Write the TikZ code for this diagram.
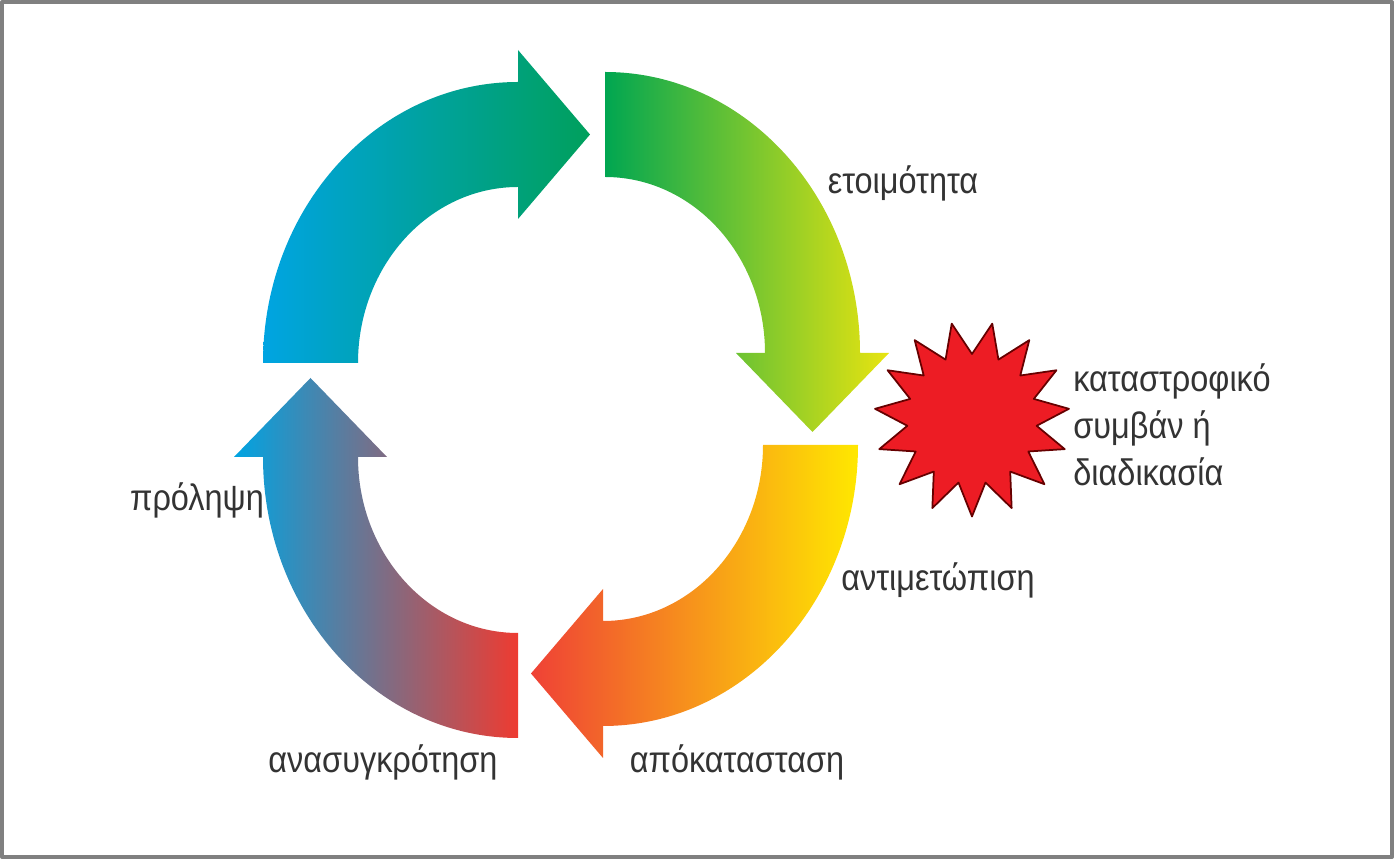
\documentclass[tikz,border=0pt]{standalone}
\usepackage{fontspec}
\setmainfont{Liberation Sans}[FakeStretch=0.88]
\usetikzlibrary{shapes.geometric}
\definecolor{cBlue}{RGB}{0,164,226}
\definecolor{cTeal}{RGB}{0,160,92}
\definecolor{cGreen}{RGB}{0,166,81}
\definecolor{cYellow}{RGB}{232,228,16}
\definecolor{cGold}{RGB}{255,232,0}
\definecolor{cRed}{RGB}{239,65,54}
\definecolor{cRose}{RGB}{238,59,49}
\definecolor{cSlate}{RGB}{126,130,146}
\definecolor{cBurst}{RGB}{237,28,36}
\begin{document}
\begin{tikzpicture}[x=0.02cm,y=0.02cm,line join=round,
	stage/.style={text=black!80,font=\fontsize{21}{26.6}\selectfont,inner sep=0pt}]
	\def\Rox{255} \def\Roy{281} \def\Rix{160} \def\Riy{176}
	\def\hx{29} \def\hy{32} \def\lx{72} \def\ly{79}
	\def\wx{76.5} \def\wy{84.5}
	\useasboundingbox (0,0) rectangle (1394,859);
	\draw[gray,line width=0.08cm] (2,2) rectangle (1392,857);
	\path
	(518,496) coordinate (A)
	(605,506) coordinate (B)
	(603,414) coordinate (C)
	(518,402) coordinate (D);
	% four arrows of the cycle
	\shade[left color=cBlue,right color=cTeal] (A) ++(-\Rox,0) arc[start angle=180,end angle=90,x radius=\Rox,y radius=\Roy] -- ++(0,\hy) -- ++(\lx,-\wy) -- ++(-\lx,-\wy) -- ++(0,\hy) arc[start angle=90,end angle=180,x radius=\Rix,y radius=\Riy] -- cycle;
	\shade[left color=cGreen,right color=cYellow] (B) ++(0,\Roy) arc[start angle=90,end angle=0,x radius=\Rox,y radius=\Roy] -- ++(\hx,0) -- ++(-\wx,-\ly) -- ++(-\wx,\ly) -- ++(\hx,0) arc[start angle=0,end angle=90,x radius=\Rix,y radius=\Riy] -- cycle;
	\shade[left color=cRed,right color=cGold] (C) ++(\Rox,0) arc[start angle=0,end angle=-90,x radius=\Rox,y radius=\Roy] -- ++(0,-\hy) -- ++(-\lx,\wy) -- ++(\lx,\wy) -- ++(0,-\hy) arc[start angle=-90,end angle=0,x radius=\Rix,y radius=\Riy] -- cycle;
	\shade[left color=cBlue,middle color=cSlate,right color=cRose] (D) ++(0,-\Roy) arc[start angle=270,end angle=180,x radius=\Rox,y radius=\Roy] -- ++(-\hx,0) -- ++(\wx,\ly) -- ++(\wx,-\ly) -- ++(-\hx,0) arc[start angle=180,end angle=270,x radius=\Rix,y radius=\Riy] -- cycle;
	% the event
	\node[star,star points=15,star point ratio=1.5,shape border rotate=12,minimum size=3.9cm,inner sep=0pt,fill=cBurst,draw=black!60!red,line width=0.035cm] (burst) at (972,440) {};
	\node[stage,anchor=west,align=left] (event) at (1073,434) {καταστροφικό\\συμβάν ή\\διαδικασία};
	\node[stage] (ready) at (903,676) {ετοιμότητα};
	\node[stage] (respond) at (938,279) {αντιμετώπιση};
	\node[stage] (restore) at (737,97) {απόκατασταση};
	\node[stage] (rebuild) at (383,97) {ανασυγκρότηση};
	\node[stage] (prevent) at (197,359) {πρόληψη};
\end{tikzpicture}
\end{document}
